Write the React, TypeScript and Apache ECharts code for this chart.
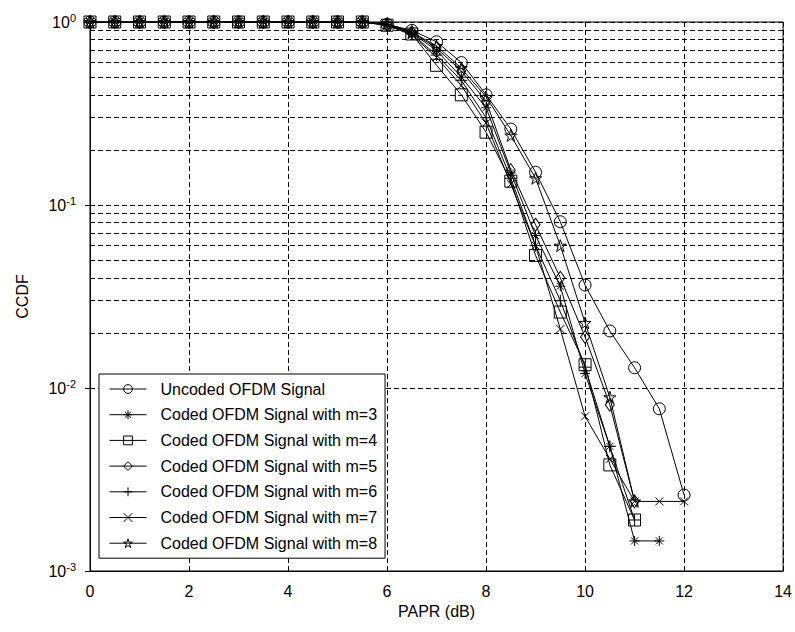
import React, { useEffect, useRef } from "react";
import * as echarts from "echarts";

// PAPR values (dB) on the x axis
const papr = [0, 0.5, 1, 1.5, 2, 2.5, 3, 3.5, 4, 4.5, 5, 5.5, 6, 6.5, 7, 7.5, 8, 8.5, 9, 9.5, 10, 10.5, 11, 11.5, 12];

// CCDF values per curve (aligned with papr from index 0)
const uncoded = [1, 1, 1, 1, 1, 1, 1, 1, 1, 1, 1, 1, 0.97, 0.9, 0.78, 0.6, 0.4, 0.26, 0.151, 0.081, 0.0365, 0.0205, 0.0129, 0.0077, 0.0026];
const codedM3 = [1, 1, 1, 1, 1, 1, 1, 1, 1, 1, 1, 1, 0.97, 0.87, 0.7, 0.5, 0.34, 0.15, 0.068, 0.036, 0.012, 0.0048, 0.00146, 0.00146];
const codedM4 = [1, 1, 1, 1, 1, 1, 1, 1, 1, 1, 1, 1, 0.96, 0.86, 0.58, 0.4, 0.25, 0.135, 0.053, 0.026, 0.0134, 0.0038, 0.0019];
const codedM5 = [1, 1, 1, 1, 1, 1, 1, 1, 1, 1, 1, 1, 0.97, 0.88, 0.72, 0.54, 0.37, 0.155, 0.078, 0.04, 0.019, 0.0081, 0.0024];
const codedM6 = [1, 1, 1, 1, 1, 1, 1, 1, 1, 1, 1, 1, 0.96, 0.86, 0.66, 0.48, 0.3, 0.14, 0.06, 0.03, 0.013, 0.0048, 0.0019];
const codedM7 = [1, 1, 1, 1, 1, 1, 1, 1, 1, 1, 1, 1, 0.96, 0.85, 0.64, 0.45, 0.28, 0.13, 0.06, 0.021, 0.007, 0.0041, 0.0024, 0.0024, 0.0024];
const codedM8 = [1, 1, 1, 1, 1, 1, 1, 1, 1, 1, 1, 1, 0.98, 0.88, 0.74, 0.56, 0.39, 0.24, 0.14, 0.06, 0.0227, 0.0089, 0.0024];

const seriesNames = [
  "Uncoded OFDM Signal",
  "Coded OFDM Signal with m=3",
  "Coded OFDM Signal with m=4",
  "Coded OFDM Signal with m=5",
  "Coded OFDM Signal with m=6",
  "Coded OFDM Signal with m=7",
  "Coded OFDM Signal with m=8",
];

// log-scale minor grid values
const minorGridValues = [
  0.002, 0.003, 0.004, 0.005, 0.006, 0.007, 0.008, 0.009,
  0.02, 0.03, 0.04, 0.05, 0.06, 0.07, 0.08, 0.09,
  0.2, 0.3, 0.4, 0.5, 0.6, 0.7, 0.8, 0.9,
];

const SYM_CIRCLE = "path://M-5,0A5,5,0,1,0,5,0A5,5,0,1,0,-5,0Z";
const SYM_ASTERISK = "path://M0,-5L0,5M-5,0L5,0M-3.5,-3.5L3.5,3.5M-3.5,3.5L3.5,-3.5";
const SYM_SQUARE = "path://M-5,-5L5,-5L5,5L-5,5Z";
const SYM_DIAMOND = "path://M0,-6L4,0L0,6L-4,0Z";
const SYM_PLUS = "path://M0,-5L0,5M-5,0L5,0";
const SYM_X = "path://M-3.5,-3.5L3.5,3.5M-3.5,3.5L3.5,-3.5";
const SYM_STAR =
  "path://M0,-5L1.123,-1.545L4.755,-1.545L1.816,0.59L2.939,4.045L0,1.91L-2.939,4.045L-1.816,0.59L-4.755,-1.545L-1.123,-1.545Z";

const FONT = "Liberation Sans, Arial, sans-serif";

export default function App() {
  const ref = useRef<HTMLDivElement>(null);

  useEffect(() => {
    if (!ref.current) return;
    const chart = echarts.init(ref.current, null, { renderer: "svg" });

    const all = [uncoded, codedM3, codedM4, codedM5, codedM6, codedM7, codedM8];
    const symbols = [SYM_CIRCLE, SYM_ASTERISK, SYM_SQUARE, SYM_DIAMOND, SYM_PLUS, SYM_X, SYM_STAR];
    const sizes: any[] = [12, 10, 12, [9, 13], 12, 8, 12];

    const series: any[] = all.map((vals, i) => ({
      name: seriesNames[i],
      type: "line",
      xAxisIndex: 0,
      yAxisIndex: 0,
      data: vals.map((v, j) => [papr[j], v]),
      symbol: symbols[i],
      symbolSize: sizes[i],
      showAllSymbol: true,
      lineStyle: { color: "#000", width: 1 },
      itemStyle: { color: "rgba(0,0,0,0)", borderColor: "#000", borderWidth: 1 },
      emphasis: { disabled: true },
      z: 3,
    }));

    series[0].markLine = {
      silent: true,
      symbol: "none",
      label: { show: false },
      lineStyle: { color: "#000", type: [5, 3], width: 1 },
      data: minorGridValues.map((v) => ({ yAxis: v })),
      z: 1,
    };

    const option: any = {
      animation: false,
      backgroundColor: "#fff",
      textStyle: { fontFamily: FONT },
      grid: {
        left: 90,
        right: 11,
        top: 22,
        bottom: 61,
        show: true,
        borderColor: "#000",
        borderWidth: 1,
        backgroundColor: "#fff",
      },
      legend: {
        orient: "vertical",
        left: 99,
        top: 374,
        data: seriesNames,
        backgroundColor: "#fff",
        borderColor: "#000",
        borderWidth: 1,
        borderRadius: 0,
        padding: [7, 8, 7, 10],
        itemWidth: 37,
        itemHeight: 11,
        itemGap: 9.7,
        lineStyle: { color: "#000", width: 1 },
        itemStyle: { color: "rgba(0,0,0,0)", borderColor: "#000", borderWidth: 1 },
        textStyle: { fontFamily: FONT, fontSize: 16, color: "#000", padding: [0, 0, 0, 9] },
        selectedMode: false,
      },
      xAxis: [
        {
          type: "value",
          min: 0,
          max: 14,
          interval: 2,
          name: "PAPR (dB)",
          nameLocation: "middle",
          nameGap: 26,
          nameTextStyle: { fontFamily: FONT, fontSize: 16, color: "#000" },
          axisLine: { lineStyle: { color: "#000", width: 1 } },
          axisTick: { inside: true, length: 5, lineStyle: { color: "#000" } },
          axisLabel: { fontFamily: FONT, fontSize: 16, color: "#000", margin: 12 },
          splitLine: { show: true, lineStyle: { color: "#000", type: [5, 3], width: 1 } },
        },
        {
          type: "value",
          position: "top",
          min: 0,
          max: 14,
          interval: 2,
          axisLine: { show: false },
          axisTick: { inside: true, length: 5, lineStyle: { color: "#000" } },
          axisLabel: { show: false },
          splitLine: { show: false },
        },
      ],
      yAxis: [
        {
          type: "log",
          logBase: 10,
          min: 0.001,
          max: 1,
          name: "CCDF",
          nameLocation: "middle",
          nameGap: 60,
          nameTextStyle: { fontFamily: FONT, fontSize: 16, color: "#000" },
          axisLine: { lineStyle: { color: "#000", width: 1 } },
          axisTick: { inside: true, length: 5, lineStyle: { color: "#000" } },
          axisLabel: {
            margin: 14,
            color: "#000",
            fontFamily: FONT,
            fontSize: 16,
            formatter: (v: number) => "10{sup|" + Math.round(Math.log10(v)) + "}",
            rich: {
              sup: { fontSize: 11, fontFamily: FONT, color: "#000", verticalAlign: "bottom", padding: [0, 0, 9, 0] },
            },
          },
          splitLine: { show: true, lineStyle: { color: "#000", type: [5, 3], width: 1 } },
        },
        {
          type: "log",
          logBase: 10,
          min: 0.001,
          max: 1,
          position: "right",
          axisLine: { show: false },
          axisTick: { inside: true, length: 5, lineStyle: { color: "#000" } },
          axisLabel: { show: false },
          splitLine: { show: false },
        },
      ],
      series,
    };

    chart.setOption(option);
    return () => chart.dispose();
  }, []);

  return (
    <div
      ref={ref}
      style={{ position: "fixed", left: 0, top: 0, width: 795, height: 632, background: "#fff" }}
    />
  );
}
